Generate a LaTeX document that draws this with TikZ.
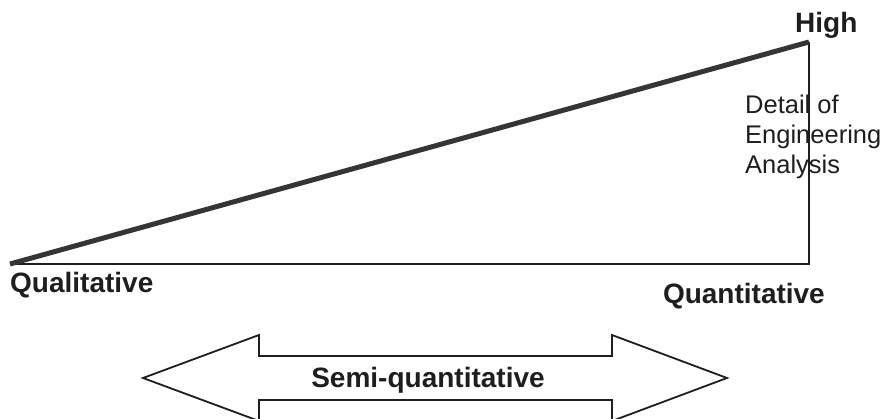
\documentclass[tikz,border=0pt]{standalone}
\usepackage{fontspec}
\setmainfont{Liberation Sans}
\definecolor{ink}{HTML}{1E1E1E}
\definecolor{pinkbg}{HTML}{F3DCF1}
\definecolor{pinkmid}{HTML}{F9EDF8}
\pgfdeclarehorizontalshading{pinkfade}{100bp}{color(0bp)=(pinkbg); color(6bp)=(pinkmid); color(16bp)=(white); color(100bp)=(white)}
\begin{document}
\begin{tikzpicture}[x=1pt,y=-1pt,
  boldlbl/.style={inner sep=0pt, text=ink, font=\fontsize{28}{30}\selectfont\bfseries},
  plainlbl/.style={inner sep=0pt, text=ink, align=left, font=\fontsize{25.5}{30}\selectfont},
  thinline/.style={draw=ink, line width=1.8pt, line join=miter},
  thickline/.style={draw=ink!90, line width=5pt, line cap=butt},
  arrowline/.style={draw=ink, line width=1.8pt, fill=white, line join=miter}]
\useasboundingbox (0,0) rectangle (885,419);
\shade[shading=pinkfade] (0,0) rectangle (885,419);
% triangle
\coordinate (O) at (10,264);
\coordinate (R) at (809,264);
\coordinate (T) at (809,42);
\draw[thinline] (O) -- (R) -- (T);
\draw[thickline] (O) -- (T);
% labels
\node[boldlbl, anchor=base west] (high) at (795,33) {High};
\node[boldlbl, anchor=base west] (qual) at (10,293) {Qualitative};
\node[boldlbl, anchor=base east] (quant) at (825,304) {Quantitative};
\node[plainlbl, anchor=base west] (detail) at (745,174) {Detail of\\Engineering\\Analysis};
% double arrow
\draw[arrowline] (143,378) -- (259,335) -- (259,356) -- (612,356) -- (612,335) -- (727,378)
  -- (612,421) -- (612,400) -- (259,400) -- (259,421) -- cycle;
\node[boldlbl, anchor=base] (semi) at (428,387) {Semi-quantitative};
\end{tikzpicture}
\end{document}
